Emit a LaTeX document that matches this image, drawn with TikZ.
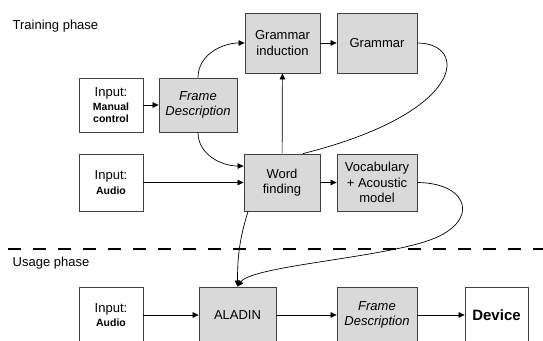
\documentclass[tikz,border=0pt]{standalone}
\usepackage{fontspec}
\setmainfont{Liberation Sans}
\usetikzlibrary{arrows.meta}

\newcommand{\smallbold}{\bfseries\fontsize{10.5}{12}\selectfont}

\begin{document}
\begin{tikzpicture}[x=1pt, y=-1pt,
    box/.style={draw=black!75, line width=0.8pt, inner sep=0pt, align=center,
        font=\fontsize{13}{15.5}\selectfont},
    graybox/.style={box, fill=black!15},
    whitebox/.style={box, fill=white},
    phase/.style={anchor=base west, inner sep=0pt, font=\fontsize{13}{15}\selectfont},
    flow/.style={-{Triangle[length=6pt,width=5.5pt]}, line width=0.7pt},
    link/.style={line width=0.7pt}]
    \clip (0,0) rectangle (543,340);

    % Phase labels and divider
    \node[phase] (trainlbl) at (12.5,29.5) {Training phase};
    \node[phase] (usagelbl) at (12.5,266) {Usage phase};
    \coordinate (divl) at (8,249);
    \coordinate (divr) at (543,249);
    \draw[line width=2pt, dash pattern=on 13pt off 12pt] (divl) -- (divr);

    % Training nodes
    \node[whitebox, minimum width=64pt, minimum height=54pt] (man) at (111,105)
        {Input:\\[-1pt]\smallbold Manual\\[-3.8pt]\smallbold control};
    \node[graybox, minimum width=78pt, minimum height=54pt] (fdtrain) at (198,105)
        {\itshape Frame\\\itshape Description};
    \node[graybox, minimum width=75pt, minimum height=60pt] (gind) at (282.5,43)
        {Grammar\\induction};
    \node[graybox, minimum width=80pt, minimum height=60pt] (gram) at (377,43)
        {Grammar};
    \node[whitebox, minimum width=64pt, minimum height=57pt] (audtrain) at (111,182.5)
        {Input:\\[-1pt]\smallbold Audio};
    \node[graybox, minimum width=76pt, minimum height=57pt] (wfind) at (282,182.5)
        {Word\\finding};
    \node[graybox, minimum width=80pt, minimum height=57pt] (vocab) at (377,182.5)
        {Vocabulary\\+ Acoustic\\model};

    % Usage nodes
    \node[whitebox, minimum width=64pt, minimum height=56pt] (audusage) at (111,315)
        {Input:\\[-1pt]\smallbold Audio};
    \node[graybox, minimum width=77pt, minimum height=56pt] (aladin) at (237.5,315)
        {ALADIN};
    \node[graybox, minimum width=80pt, minimum height=56pt] (fdusage) at (377,315)
        {\itshape Frame\\\itshape Description};
    \node[whitebox, minimum width=63pt, minimum height=56pt] (device) at (496.5,315)
        {\bfseries\fontsize{15}{18}\selectfont Device};

    % Training connections
    \draw[flow] (man) -- (fdtrain);
    \draw[flow] (fdtrain.north) to[out=90, in=180] (gind.west);
    \draw[flow] (fdtrain.south) to[out=-90, in=180] ([yshift=16.5pt]wfind.west);
    \draw[flow] (audtrain) -- (wfind);
    \draw[flow] (gind) -- (gram);
    \draw[flow] (wfind) -- (gind);
    \draw[flow] (wfind) -- (vocab);
    \draw[link] (gram.east) .. controls (468,43) and (468,112) .. ([xshift=21pt]wfind.north);

    % Into the usage phase
    \coordinate (vbend) at (430,240);
    \draw[flow] (vocab.east) .. controls (470,183) and (480,222) .. (vbend)
        .. controls (380,258) and (252,266) .. (aladin.north);
    \draw[flow] ([xshift=-34pt]wfind.south) to[out=-107, in=90] (aladin.north);

    % Usage connections
    \draw[flow] (audusage) -- (aladin);
    \draw[flow] (aladin) -- (fdusage);
    \draw[flow] (fdusage) -- (device);
\end{tikzpicture}
\end{document}
